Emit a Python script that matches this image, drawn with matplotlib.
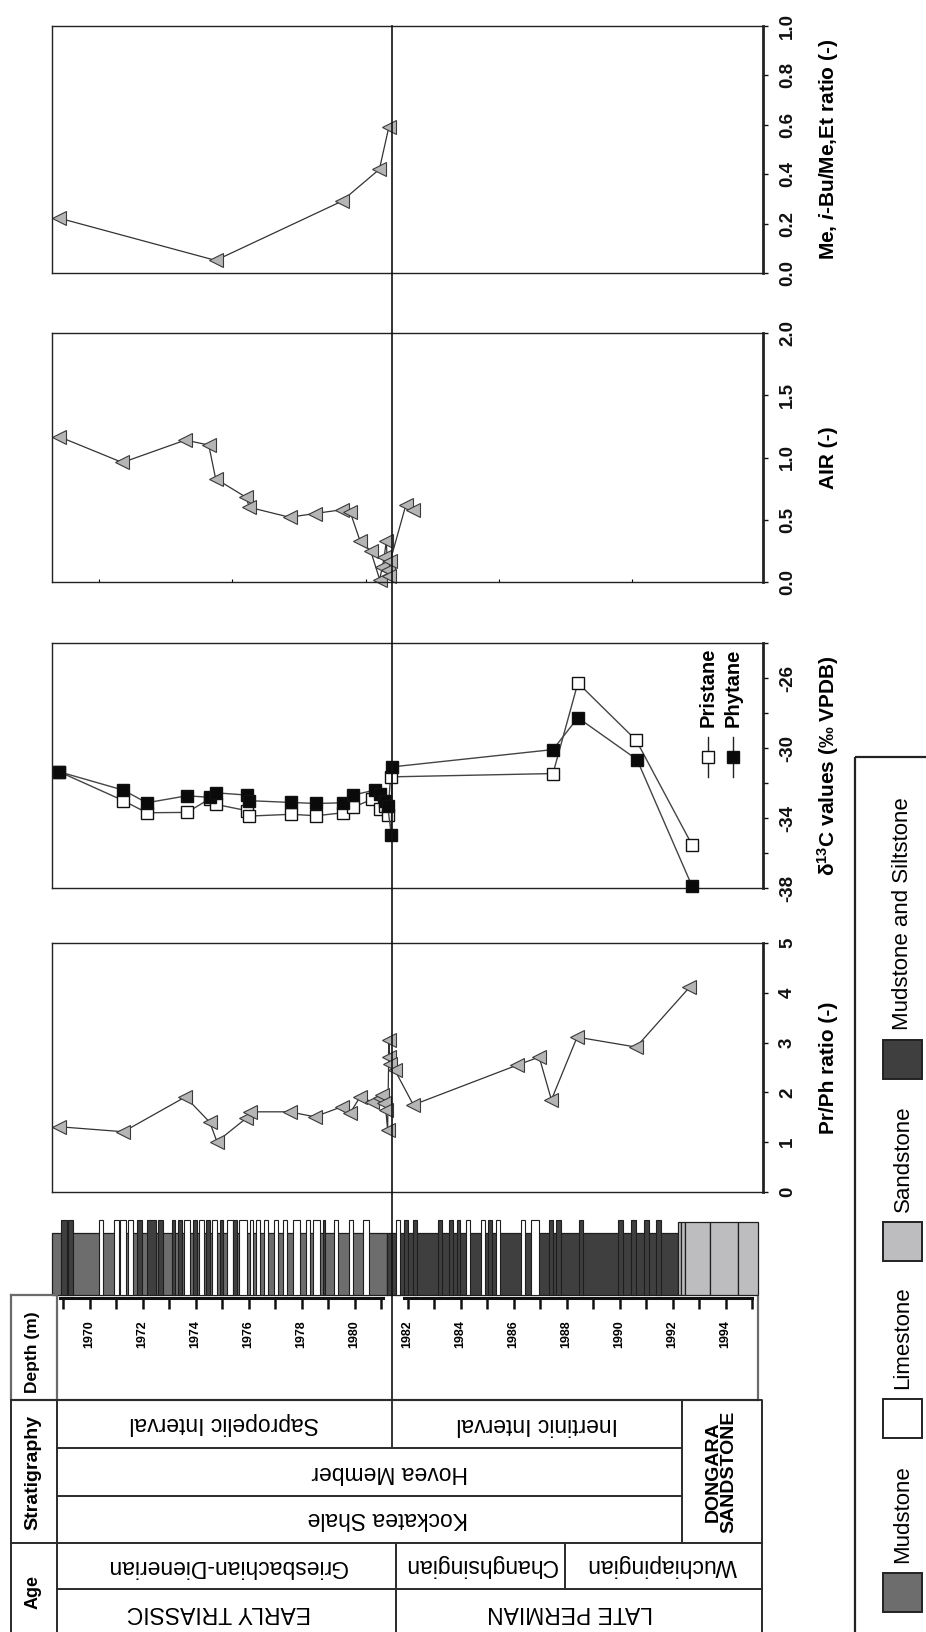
import matplotlib
matplotlib.use('Agg')
import matplotlib.pyplot as plt
from matplotlib.patches import Rectangle
import numpy as np

plt.rcParams['font.family'] = ['Liberation Sans', 'DejaVu Sans']
plt.rcParams['mathtext.fontset'] = 'custom'
plt.rcParams['mathtext.rm'] = 'Liberation Sans:bold'
plt.rcParams['mathtext.bf'] = 'Liberation Sans:bold'
plt.rcParams['mathtext.it'] = 'Liberation Sans:bold:italic'

# ---------------- data ----------------
ME_DEPTH = [1968.86, 1974.76, 1979.51, 1980.94, 1981.30]
ME_VALUE = [0.222, 0.051, 0.29, 0.42, 0.593]

AIR_DEPTH = [1968.86, 1971.24, 1973.62, 1974.50, 1974.76, 1975.91, 1976.03, 1977.55,
             1978.50, 1979.51, 1979.84, 1980.21, 1980.61, 1980.95, 1981.05, 1981.12,
             1981.20, 1981.25, 1981.30, 1981.35, 1981.94, 1982.21]
AIR_VALUE = [1.167, 0.96, 1.14, 1.10, 0.83, 0.68, 0.60, 0.52,
             0.55, 0.58, 0.56, 0.33, 0.25, 0.02, 0.12, 0.20,
             0.33, 0.10, 0.05, 0.17, 0.62, 0.58]

PRPH_DEPTH = [1968.86, 1971.28, 1973.62, 1974.54, 1974.81, 1975.91, 1976.05, 1977.55,
              1978.50, 1979.51, 1979.84, 1980.21, 1980.66, 1980.95, 1981.05, 1981.12,
              1981.18, 1981.25, 1981.30, 1981.32, 1981.34, 1981.52, 1982.22, 1986.15,
              1986.97, 1987.43, 1988.40, 1990.63, 1992.64]
PRPH_VALUE = [1.31, 1.21, 1.91, 1.40, 1.01, 1.48, 1.61, 1.61,
              1.51, 1.71, 1.59, 1.91, 1.81, 1.88, 1.95, 1.78,
              1.65, 1.25, 3.05, 2.72, 2.58, 2.45, 1.75, 2.55,
              2.71, 1.85, 3.11, 2.91, 4.11]

PRISTANE_DEPTH = [1968.86, 1971.28, 1972.16, 1973.68, 1974.54, 1974.76, 1975.94, 1976.03,
                  1977.59, 1978.56, 1979.57, 1979.93, 1980.66, 1980.95, 1981.15, 1981.26,
                  1981.36, 1987.49, 1988.43, 1990.63, 1992.74]
PRISTANE_D13C = [-31.36, -33.01, -33.70, -33.68, -32.90, -33.22, -33.58, -33.89,
                 -33.79, -33.87, -33.70, -33.39, -32.94, -33.50, -33.30, -33.83,
                 -31.65, -31.46, -26.28, -29.56, -35.54]
PHYTANE_DEPTH = [1968.86, 1971.28, 1972.16, 1973.68, 1974.54, 1974.76, 1975.94, 1976.03,
                 1977.59, 1978.56, 1979.57, 1979.93, 1980.76, 1980.98, 1981.15, 1981.25,
                 1981.39, 1981.42, 1987.49, 1988.43, 1990.66, 1992.74]
PHYTANE_D13C = [-31.36, -32.41, -33.13, -32.73, -32.82, -32.56, -32.69, -33.01,
                -33.11, -33.17, -33.13, -32.69, -32.41, -32.60, -33.00, -33.30,
                -34.97, -31.08, -30.09, -28.27, -30.66, -37.90]

# lithology: background units and thin beds (top depth, base depth, lithology)
UNIT_TOP = [1968.59, 1981.23, 1992.21, 1992.32, 1992.47, 1993.42, 1994.47]
UNIT_BASE = [1981.23, 1992.21, 1992.32, 1992.47, 1993.42, 1994.47, 1995.23]
UNIT_LITH = ['Mudstone', 'Mudstone and Siltstone', 'Sandstone', 'Sandstone',
             'Sandstone', 'Sandstone', 'Sandstone']

BED_TOP = [1968.91, 1969.18, 1970.36, 1970.93, 1971.15, 1971.45, 1971.79, 1972.17,
           1972.59, 1973.11, 1973.34, 1973.57, 1973.91, 1974.13, 1974.40, 1974.62,
           1974.93, 1975.19, 1975.42, 1975.64, 1976.06, 1976.28, 1976.59, 1976.96,
           1977.30, 1977.68, 1978.17, 1978.43, 1978.81, 1979.23, 1979.79, 1980.32,
           1981.57, 1981.87, 1982.21, 1983.15, 1983.57, 1983.87, 1984.21, 1984.77,
           1985.04, 1985.34, 1986.28, 1986.66, 1987.34, 1987.60, 1988.47, 1989.94,
           1990.43, 1990.93, 1991.38]
BED_BASE = [1969.14, 1969.37, 1970.51, 1971.11, 1971.38, 1971.64, 1971.98, 1972.51,
            1972.77, 1973.23, 1973.49, 1973.79, 1974.06, 1974.32, 1974.55, 1974.81,
            1975.04, 1975.42, 1975.57, 1975.94, 1976.17, 1976.43, 1976.74, 1977.11,
            1977.45, 1977.94, 1978.32, 1978.70, 1978.89, 1979.38, 1979.94, 1980.55,
            1981.72, 1982.02, 1982.36, 1983.30, 1983.72, 1983.98, 1984.36, 1984.93,
            1985.19, 1985.49, 1986.43, 1986.96, 1987.49, 1987.79, 1988.62, 1990.13,
            1990.62, 1991.11, 1991.57]
M, L = 'Mudstone and Siltstone', 'Limestone'
BED_LITH = [M, M, L, L, L, L, M, M,
            M, M, M, L, M, L, M, L,
            M, L, M, L, L, L, L, L,
            L, L, L, L, M, L, L, L,
            L, M, M, M, M, M, L, L,
            M, L, L, L, M, M, M, M,
            M, M, M]

LEGEND_LABELS = ['Mudstone', 'Limestone', 'Sandstone', 'Mudstone and Siltstone']
LITH_COLOR = {'Mudstone': '#6d6d6d', 'Limestone': '#ffffff',
              'Sandstone': '#bdbdc0', 'Mudstone and Siltstone': '#3f3f3f'}

DEPTH_TICKS = list(range(1969, 1996))
DEPTH_LABELS = list(range(1970, 1995, 2))

REF_DEPTH = 1981.41
# stratigraphic table: (top depth, base depth, label)
STRAT_ROW1 = [(1968.77, 1981.41, 'Sapropelic Interval'), (1981.41, 1992.36, 'Inertinic Interval')]
STRAT_ROW2 = [(1968.77, 1992.36, 'Hovea Member')]
STRAT_ROW3 = [(1968.77, 1992.36, 'Kockatea Shale')]
DONGARA = (1992.36, 1995.30, 'DONGARA\nSANDSTONE')
AGE_ROW1 = [(1968.77, 1981.57, 'Griesbachian-Dienerian'), (1981.57, 1987.94, 'Changhsingian'),
            (1987.94, 1995.30, 'Wuchiapingian')]
AGE_ROW2 = [(1968.77, 1981.57, 'EARLY TRIASSIC'), (1981.57, 1995.30, 'LATE PERMIAN')]

# ---------------- layout ----------------
W, H = 926, 1632
fig = plt.figure(figsize=(W / 100, H / 100), dpi=100)
PX0, PXS = 89.5, 26.5


def px(d):
    return PX0 + (d - 1970) * PXS


def dep(x):
    return 1970 + (x - PX0) / PXS


def add_ax(x0, x1, y0, y1, **kw):
    return fig.add_axes([x0 / W, 1 - y1 / H, (x1 - x0) / W, (y1 - y0) / H], **kw)


XL = (dep(52), dep(763))
LINE_C = '#333333'
EDGE_C = '#1e1e1e'

panels = [
    dict(y=(26, 273), ylim=(0, 1), ticks=np.round(np.arange(0, 1.01, 0.2), 1),
         labels=['0.0', '0.2', '0.4', '0.6', '0.8', '1.0'],
         title='Me, $\\mathit{i}$-Bu/Me,Et ratio (-)'),
    dict(y=(333, 582), ylim=(0, 2), ticks=[0, 0.5, 1.0, 1.5, 2.0],
         labels=['0.0', '0.5', '1.0', '1.5', '2.0'], title='AIR (-)'),
    dict(y=(643, 888), ylim=(-38, -24), ticks=list(range(-38, -23, 2)),
         labels=['-38', '', '-34', '', '-30', '', '-26', ''],
         title='δ$^{13}$C values (‰ VPDB)'),
    dict(y=(943, 1192), ylim=(0, 5), ticks=[0, 1, 2, 3, 4, 5],
         labels=['0', '1', '2', '3', '4', '5'], title='Pr/Ph ratio (-)'),
]
axes = []
for p in panels:
    ax = add_ax(52, 763, p['y'][0], p['y'][1])
    ax.set_xlim(XL)
    ax.set_ylim(p['ylim'])
    ax.yaxis.tick_right()
    ax.set_yticks(p['ticks'], p['labels'], rotation=90, va='center',
                  fontsize=13.5, fontweight='bold')
    ax.tick_params(axis='y', direction='out', length=3.6, width=1.0, pad=8, colors='#111')
    ax.set_xticks([])
    for s in ['left', 'top', 'bottom']:
        ax.spines[s].set_linewidth(1.0)
        ax.spines[s].set_color('#222')
    ax.spines['right'].set_linewidth(2.0)
    ax.spines['right'].set_color('#222')
    cy = (p['y'][0] + p['y'][1]) / 2
    fig.text(828 / W, 1 - cy / H, p['title'], rotation=90, ha='center', va='center',
             fontsize=15, fontweight='bold')
    axes.append(ax)

tri = dict(color=LINE_C, lw=0.9, marker='<', ms=9.5, mfc='#b5b5b5', mec='#3a3a3a',
           mew=0.8, clip_on=False)
axes[0].plot(ME_DEPTH, ME_VALUE, **tri)
axes[1].plot(AIR_DEPTH, AIR_VALUE, **tri)
axes[1].set_xticks([1970.36, 1975.38, 1980.43, 1985.45, 1990.47])
axes[1].tick_params(axis='x', direction='in', length=2.5, width=0.8, labelbottom=False)
axes[3].plot(PRPH_DEPTH, PRPH_VALUE, **tri)
axes[2].plot(PRISTANE_DEPTH, PRISTANE_D13C, color='#444', lw=1.0, marker='s', ms=8.3,
             mfc='white', mec='#111', mew=1.0, clip_on=False, zorder=3)
axes[2].plot(PHYTANE_DEPTH, PHYTANE_D13C, color='#444', lw=1.0, marker='s', ms=8.3,
             mfc='#0a0a0a', mec='#111', mew=1.0, clip_on=False, zorder=4)

# ---------------- lithology column ----------------
lax = add_ax(52, 763, 1220, 1295)
lax.set_xlim(XL)
lax.set_ylim(0, 1)
lax.axis('off')
for t, b, lith in zip(UNIT_TOP, UNIT_BASE, UNIT_LITH):
    h = 0.97 if lith == 'Sandstone' else 0.827
    lax.add_patch(Rectangle((t, 0), b - t, h, fc=LITH_COLOR[lith], ec=EDGE_C, lw=0.9,
                            clip_on=False))
for t, b, lith in zip(BED_TOP, BED_BASE, BED_LITH):
    lax.add_patch(Rectangle((t, 0), b - t, 1.0, fc=LITH_COLOR[lith], ec=EDGE_C, lw=0.8,
                            clip_on=False, zorder=3))

# ---------------- depth axis ----------------
dax = add_ax(52, 763, 1297, 1400)
dax.set_xlim(XL)
dax.set_ylim(1400, 1297)
dax.set_xticks(DEPTH_TICKS)
dax.xaxis.tick_top()
dax.tick_params(axis='x', direction='in', length=8.6, width=1.8, colors='#111',
                labeltop=False, labelbottom=False)
dax.set_yticks([])
for s in dax.spines.values():
    s.set_visible(False)
dax.patch.set_alpha(0)
dax.plot([dep(60), dep(383)], [1297.5, 1297.5], color='#111', lw=2.2, clip_on=False)
dax.plot([dep(404), dep(752)], [1297.5, 1297.5], color='#111', lw=2.2, clip_on=False)
for d in DEPTH_LABELS:
    dax.text(d, 1334, str(d), rotation=90, ha='center', va='center', fontsize=9,
             fontweight='bold')

# ---------------- overlay: table, reference line, legends ----------------
ov = add_ax(0, W, 0, H, zorder=10)
ov.set_xlim(0, W)
ov.set_ylim(H, 0)
ov.axis('off')
ov.patch.set_alpha(0)

ov.plot([px(REF_DEPTH)] * 2, [26, 1448], color='#111', lw=1.2)

TC = '#2a2a2a'
GC = '#6a6a6a'
lw = 1.4
# depth row boxes
ov.plot([11, 57, 57, 11, 11], [1295, 1295, 1400, 1400, 1295], color=GC, lw=1.6)
ov.plot([57, px(1995.23)], [1400, 1400], color=GC, lw=1.6)
ov.plot([px(1995.23)] * 2, [1297, 1400], color=GC, lw=1.6)
# strat / age table frame
ov.plot([11, 762, 762, 11, 11], [1400, 1400, 1640, 1640, 1400], color=TC, lw=lw)
ov.plot([57, 57], [1400, 1640], color=TC, lw=lw)
ov.plot([57, px(DONGARA[0])], [1448, 1448], color=TC, lw=lw)
ov.plot([57, px(DONGARA[0])], [1496, 1496], color=TC, lw=lw)
ov.plot([11, 762], [1543, 1543], color=TC, lw=lw)
ov.plot([57, 762], [1589, 1589], color=TC, lw=lw)
ov.plot([px(DONGARA[0])] * 2, [1400, 1543], color=TC, lw=lw)
ov.plot([px(AGE_ROW1[1][0])] * 2, [1543, 1640], color=TC, lw=lw)
ov.plot([px(AGE_ROW1[2][0])] * 2, [1543, 1589], color=TC, lw=lw)

tkw = dict(rotation=180, ha='center', va='center', fontsize=16.5)
for t, b, lab in STRAT_ROW1:
    ov.text((px(t) + px(b)) / 2, 1424, lab, **tkw)
for t, b, lab in STRAT_ROW2:
    ov.text(390, 1472, lab, **tkw)
for t, b, lab in STRAT_ROW3:
    ov.text(388, 1519, lab, **tkw)
for t, b, lab in AGE_ROW1:
    ov.text((px(t) + px(b)) / 2, 1566, lab, **tkw)
for t, b, lab in AGE_ROW2:
    ov.text((px(t) + px(b)) / 2 - 8, 1613, lab, **tkw)
ov.text((px(DONGARA[0]) + px(DONGARA[1])) / 2, 1472, DONGARA[2], rotation=90,
        ha='center', va='center', fontsize=14, fontweight='bold', multialignment='center',
        linespacing=0.95)

hkw = dict(rotation=90, ha='center', va='center', fontweight='bold')
ov.text(33, 1352, 'Depth (m)', fontsize=12.5, **hkw)
ov.text(33, 1472, 'Stratigraphy', fontsize=14, **hkw)
ov.text(33, 1592, 'Age', fontsize=13, **hkw)

# isotope legend
for xl, lab, fc in [(708, 'Pristane', 'white'), (733, 'Phytane', '#0a0a0a')]:
    ov.plot([xl, xl], [737, 777], color='#222', lw=1.0)
    ov.plot([xl], [757], marker='s', ms=8.3, mfc=fc, mec='#111', mew=1.0)
    ov.text(xl, 727, lab, rotation=90, ha='center', va='bottom', fontsize=14.5,
            fontweight='bold')

# lithology legend
ov.add_patch(Rectangle((855, 757), 120, 900, fc='none', ec='#222', lw=1.6, clip_on=False))
SW_TOP = [1573, 1399, 1222, 1040]
for lab, ytop in zip(LEGEND_LABELS, SW_TOP):
    ov.add_patch(Rectangle((883, ytop), 39, 39, fc=LITH_COLOR[lab], ec='#222', lw=1.4))
    ov.text(903, ytop - 10, lab, rotation=90, ha='center', va='bottom', fontsize=16)

fig.savefig('out.png', dpi=100)
